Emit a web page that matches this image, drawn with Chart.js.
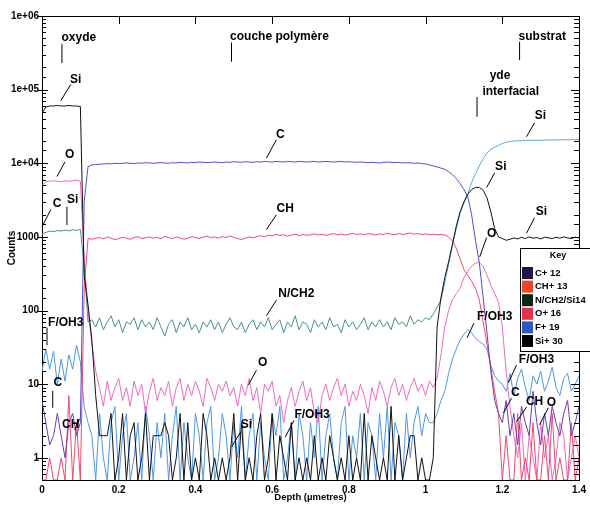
<!DOCTYPE html>
<html>
<head>
  <meta charset="utf-8">
  <title>SIMS depth profile</title>
  <script src="https://cdn.jsdelivr.net/npm/chart.js@4.4.1/dist/chart.umd.min.js"></script>
  <style>
    html, body { margin: 0; padding: 0; background: #fff; }
    #wrap { width: 590px; height: 513px; }
  </style>
</head>
<body>
  <div id="wrap"><canvas id="profile" width="590" height="513"></canvas></div>

  <script>
    // depth grid (µm)
    const depth = [
      0,0.01,0.02,0.03,0.04,0.05,0.06,0.07,0.08,0.09,0.1,0.11,0.12,0.13,0.14,0.15,0.16,0.17,0.18,0.19,
      0.2,0.21,0.22,0.23,0.24,0.25,0.26,0.27,0.28,0.29,0.3,0.31,0.32,0.33,0.34,0.35,0.36,0.37,0.38,0.39,
      0.4,0.41,0.42,0.43,0.44,0.45,0.46,0.47,0.48,0.49,0.5,0.51,0.52,0.53,0.54,0.55,0.56,0.57,0.58,0.59,
      0.6,0.61,0.62,0.63,0.64,0.65,0.66,0.67,0.68,0.69,0.7,0.71,0.72,0.73,0.74,0.75,0.76,0.77,0.78,0.79,
      0.8,0.81,0.82,0.83,0.84,0.85,0.86,0.87,0.88,0.89,0.9,0.91,0.92,0.93,0.94,0.95,0.96,0.97,0.98,0.99,
      1,1.01,1.02,1.03,1.04,1.05,1.06,1.07,1.08,1.09,1.1,1.11,1.12,1.13,1.14,1.15,1.16,1.17,1.18,1.19,
      1.2,1.21,1.22,1.23,1.24,1.25,1.26,1.27,1.28,1.29,1.3,1.31,1.32,1.33,1.34,1.35,1.36,1.37,1.38,1.39,1.4
    ];

    // counts per species, same length as depth (0 = no counts)
    const cCounts = [
      6,3,1.5,2,4,2,1,3,4,2,3,
      3000,9000,9500,
      9600,9700,9800,9900,9800,10000,9900,10000,10100,10000,9900,10100,10000,10200,10100,
      10000,10100,10200,10100,10000,10200,10100,10300,10200,10100,10300,10200,10400,10300,10200,
      10300,10400,10300,10200,10400,10300,10500,10400,10300,10500,10400,10300,10500,10400,10600,
      10500,10400,10600,10500,10400,10600,10500,10400,10600,10500,10400,10500,10600,10400,10500,
      10600,10500,10400,10500,10600,10400,10500,10400,10300,10400,10300,10200,10300,10200,10100,
      10300,10400,10300,10200,10300,10100,10200,10100,10000,10100,9900,9800,9500,
      9200,8900,8600,8300,7700,7000,6200,5300,4400,3500,2000,900,450,150,50,15,6,4,
      3,6,2,4,1.5,5,3,2,8,3,1.5,4,2,5,3,2,4,6,2,3,5
    ];
    const chCounts = [
      0,0,1,0,0,1,0,7,0,3,0,
      200,
      950,930,960,980,940,1000,960,920,950,990,960,930,980,1010,950,
      970,1000,960,990,940,1020,980,950,1000,970,930,960,1010,980,950,
      990,1030,970,1000,960,1010,980,1030,990,950,920,960,1000,970,1010,
      1040,1000,1060,1030,1080,1050,1070,1020,1060,1090,1040,1080,1050,1070,1100,
      1060,1090,1050,1080,1110,1070,1100,1060,1090,1120,1080,1100,1070,1110,1090,
      1060,1100,1080,1120,1090,1070,1110,1080,1100,1130,1090,1110,1080,1100,1070,
      1090,1070,1080,1060,1000,880,700,500,360,300,250,200,140,70,35,17,8,4,
      0,2,0,0,4,0,1,0,3,0,0,2,0,4,0,1,0,0,3,0,1
    ];
    const nCounts = [
      1100,1150,1200,1180,1220,1200,1240,1210,1250,1230,1260,
      400,70,
      75,60,80,55,70,85,60,75,50,70,65,80,55,75,60,
      70,55,80,60,45,65,75,50,70,60,80,55,65,50,70,
      60,75,55,70,50,65,80,60,55,70,50,65,75,55,70,
      60,80,55,65,75,50,70,60,85,55,70,65,50,75,60,
      70,55,80,60,65,50,75,60,70,55,65,80,55,70,60,
      75,60,70,55,80,65,70,60,85,65,75,70,80,75,
      90,110,140,240,420,760,1300,2100,2900,3800,5500,7200,9200,11500,13800,15500,16500,17500,18500,19300,19800,
      20000,20200,20300,20400,20500,20500,20600,20500,20700,20600,20800,20700,20800,20900,20800,21000,20900,21000
    ];
    const oCounts = [
      5000,5600,5700,5800,5700,5600,5800,5700,5800,5900,5700,
      500,100,35,15,9,5,11,6,9,
      12,6,9,5,11,7,10,4,8,12,6,9,7,11,5,
      9,12,6,10,7,11,8,5,12,9,6,10,8,11,7,
      9,5,10,7,12,6,9,4,10,8,11,5,7,3,6,
      9,5,8,11,6,9,4,3,7,10,6,9,12,7,10,
      5,8,6,10,7,4,9,6,11,8,5,9,12,7,10,
      6,9,12,8,10,7,11,
      9,12,25,60,100,140,170,200,280,340,400,440,450,400,300,220,170,130,60,15,5,
      2,1,3,0,2,1,0,3,1,2,0,1,3,2,0,1,2,1
    ];
    const fCounts = [
      15,30,16,28,10,22,11,25,16,34,20,
      5,3,
      2,0,4,1,0,3,5,0,2,4,0,1,3,0,5,
      2,0,3,1,4,0,2,5,0,3,1,0,4,2,0,
      3,5,0,1,4,2,0,3,1,5,0,2,4,0,3,
      1,0,4,2,5,0,1,3,0,4,2,0,3,1,5,
      0,2,4,1,0,3,5,0,2,1,4,0,3,2,0,
      4,1,5,0,3,2,0,4,1,3,5,2,4,3,
      3,4,6,8,14,22,30,40,48,55,50,42,38,35,30,18,13,11,10,
      8,14,7,12,16,9,6,13,10,15,8,11,17,9,7,12,14,8,10,13
    ];
    const siCounts = [
      48000,58000,60000,60000,61000,60000,60000,61000,60000,60000,59000,
      300,120,40,7,
      2,2,2,4,0,1,4,0,2,3,0,1,4,0,2,
      2,2,3,2,0,1,4,0,3,0,1,0,4,2,0,
      1,0,1,0,1,4,0,3,0,1,0,2,4,0,1,
      4,0,2,1,0,3,0,1,0,1,0,2,0,1,0,
      2,1,0,1,0,2,0,1,0,4,0,2,1,0,1,
      0,5,0,2,0,1,2,2,0,1,0,0,
      1,60,150,280,460,800,1400,2200,3000,3800,4400,4700,4700,4300,3400,2200,1300,1000,950,
      900,930,970,940,990,950,1000,960,980,940,990,970,950,990,960,1000,970,950,990,970
    ];

    const yMin = 0.5, yMax = 1e6;
    const xTicksLabels = ['0', '0.2', '0.4', '0.6', '0.8', '1', '1.2', '1.4'];

    // text labels on the plot: [text, depth, log10(counts), leader x1, e1, x2, e2]
    const notes = [
      ['oxyde', 0.096, 5.70, 0.052, 5.62, 0.052, 5.36],
      ['couche polymère', 0.619, 5.72, 0.494, 5.64, 0.494, 5.38],
      ['substrat', 1.304, 5.72, 1.245, 5.65, 1.245, 5.40],
      ['yde', 1.194, 5.19],
      ['interfacial', 1.222, 4.97, 1.134, 4.90, 1.134, 4.63],
      ['Si', 0.088, 5.13, 0.049, 4.85, 0.075, 5.07],
      ['O', 0.072, 4.11, 0.039, 3.82, 0.060, 4.02],
      ['C', 0.039, 3.45, 0.0, 3.14, 0.023, 3.37],
      ['Si', 0.080, 3.50, 0.065, 3.41, 0.065, 3.16],
      ['C', 0.621, 4.39, 0.585, 4.07, 0.611, 4.32],
      ['CH', 0.634, 3.38, 0.585, 3.10, 0.611, 3.30],
      ['N/CH2', 0.663, 2.23, 0.585, 1.93, 0.611, 2.14],
      ['O', 0.575, 1.29, 0.538, 0.99, 0.559, 1.19],
      ['Si', 0.533, 0.45, 0.494, 0.15, 0.518, 0.35],
      ['F/OH3', 0.704, 0.58, 0.634, 0.28, 0.657, 0.51],
      ['F/OH3', 0.062, 1.84, 0.013, 1.77, 0.013, 1.53],
      ['C', 0.041, 1.02, 0.028, 0.91, 0.028, 0.68],
      ['CH', 0.075, 0.45, 0.098, 0.53, 0.085, 0.38],
      ['Si', 1.299, 4.64, 1.263, 4.36, 1.284, 4.55],
      ['Si', 1.196, 3.96, 1.159, 3.67, 1.180, 3.87],
      ['Si', 1.302, 3.34, 1.263, 3.05, 1.284, 3.26],
      ['O', 1.172, 3.05, 1.141, 2.73, 1.159, 2.99],
      ['F/OH3', 1.180, 1.91, 1.108, 1.63, 1.126, 1.83],
      ['F/OH3', 1.289, 1.33, 1.216, 1.02, 1.237, 1.26],
      ['C', 1.234, 0.89, 1.203, 0.61, 1.224, 0.81],
      ['CH', 1.284, 0.76, 1.237, 0.49, 1.263, 0.69],
      ['O', 1.328, 0.75, 1.297, 0.45, 1.320, 0.68]
    ];

    Chart.defaults.font.family = "'Liberation Sans', Arial, sans-serif";
    Chart.defaults.color = '#000';

    function pts(arr) {
      // log axis cannot show zero, put empty channels on the floor
      return depth.map((d, i) => ({ x: d, y: arr[i] > 0 ? arr[i] : yMin }));
    }
    function isDecade(v) {
      const e = Math.log10(v);
      return Math.abs(e - Math.round(e)) < 1e-6;
    }
    function fmtCounts(v) {
      if (!isDecade(v)) return '';
      const e = Math.round(Math.log10(v));
      if (e >= 4) return '1e+0' + e;
      return String(Math.round(v));
    }

    // inward tick marks on all four sides
    const inTicks = {
      id: 'inTicks',
      afterDraw(chart) {
        const c = chart.ctx, a = chart.chartArea;
        const ys = chart.scales.y, xs = chart.scales.x;
        c.save();
        c.strokeStyle = '#000';
        c.lineWidth = 1;
        c.beginPath();
        ys.ticks.forEach(t => {
          const p = Math.round(ys.getPixelForValue(t.value)) + 0.5;
          const big = isDecade(t.value);
          c.moveTo(a.left - (big ? 5 : 0), p); c.lineTo(a.left + (big ? 6 : 4), p);
          c.moveTo(a.right - (big ? 8 : 5), p); c.lineTo(a.right, p);
        });
        xs.ticks.forEach(t => {
          const p = Math.round(xs.getPixelForValue(t.value)) + 0.5;
          c.moveTo(p, a.top); c.lineTo(p, a.top + 8);
        });
        c.stroke();
        c.restore();
      }
    };

    // species labels with leader lines
    const noteLabels = {
      id: 'noteLabels',
      afterDatasetsDraw(chart) {
        const c = chart.ctx, xs = chart.scales.x, ys = chart.scales.y;
        const px = v => xs.getPixelForValue(v);
        const py = e => ys.getPixelForValue(Math.pow(10, e));
        c.save();
        c.font = "bold 12px 'Liberation Sans', Arial, sans-serif";
        c.textAlign = 'center';
        c.textBaseline = 'middle';
        c.fillStyle = '#000';
        c.strokeStyle = '#000';
        c.lineWidth = 1;
        notes.forEach(n => {
          c.fillText(n[0], px(n[1]), py(n[2]));
          if (n.length > 3) {
            c.beginPath();
            c.moveTo(px(n[3]), py(n[4]));
            c.lineTo(px(n[5]), py(n[6]));
            c.stroke();
          }
        });
        c.restore();
      }
    };

    // "Key" box
    const keyBox = {
      id: 'keyBox',
      afterDraw(chart) {
        const c = chart.ctx;
        const left = 520, top = 248, w = 76, h = 103;
        c.save();
        c.fillStyle = '#fff';
        c.fillRect(left, top, w, h);
        c.strokeStyle = '#000';
        c.lineWidth = 1;
        c.strokeRect(left + 0.5, top + 0.5, w, h);
        c.fillStyle = '#000';
        c.font = "bold 9px 'Liberation Sans', Arial, sans-serif";
        c.textAlign = 'center';
        c.textBaseline = 'middle';
        c.fillText('Key', left + 38, top + 8);
        c.textAlign = 'left';
        c.font = "bold 9.5px 'Liberation Sans', Arial, sans-serif";
        chart.data.datasets.forEach((ds, i) => {
          const y = top + 25 + i * 13.6;
          c.fillStyle = ds.backgroundColor;
          c.fillRect(left + 2, y - 6, 11, 12);
          c.fillStyle = '#000';
          c.fillText(ds.label, left + 15, y);
        });
        c.restore();
      }
    };

    const line = { borderWidth: 1, pointRadius: 0, tension: 0, fill: false };

    new Chart(document.getElementById('profile'), {
      type: 'line',
      data: {
        datasets: [
          Object.assign({
            label: 'C+ 12', data: pts(cCounts), borderColor: '#4f50d2', backgroundColor: '#22124e', order: 2,
            segment: { borderColor: ctx => (ctx.p0.parsed.y < 200 && ctx.p1.parsed.y < 200) ? '#6a3cae' : undefined }
          }, line),
          Object.assign({
            label: 'CH+ 13', data: pts(chCounts), borderColor: '#ee4a6c', backgroundColor: '#e84a28', order: 4
          }, line),
          Object.assign({
            label: 'N/CH2/Si14', data: pts(nCounts), borderColor: '#40938c', backgroundColor: '#0e2616', order: 3,
            segment: { borderColor: ctx => ctx.p0.parsed.x >= 1.05 ? '#5aa9dc' : undefined }
          }, line),
          Object.assign({
            label: 'O+ 16', data: pts(oCounts), borderColor: '#f06abf', backgroundColor: '#e8304c', order: 5
          }, line),
          Object.assign({
            label: 'F+ 19', data: pts(fCounts), borderColor: '#4d98e6', backgroundColor: '#2a58c8', order: 6
          }, line),
          Object.assign({
            label: 'Si+ 30', data: pts(siCounts), borderColor: '#111111', backgroundColor: '#000000', order: 1
          }, line)
        ]
      },
      options: {
        responsive: false,
        animation: false,
        devicePixelRatio: 1,
        layout: { padding: { top: 16, right: 7, left: 0, bottom: 0 } },
        plugins: { legend: { display: false }, tooltip: { enabled: false } },
        scales: {
          x: {
            type: 'linear', min: 0, max: 1.4,
            afterFit: s => { s.height = 33; },
            grid: { display: false, drawTicks: false },
            border: { display: true, color: '#000', width: 1 },
            ticks: {
              stepSize: 0.2, padding: 4,
              font: { size: 10, weight: 'bold' },
              callback: v => xTicksLabels[Math.round(v / 0.2)]
            },
            title: {
              display: true, text: 'Depth (µmetres)',
              font: { size: 9.5, weight: 'bold' },
              padding: { top: 0, bottom: 10 }
            }
          },
          x2: {
            type: 'linear', position: 'top', min: 0, max: 1.4,
            afterFit: s => { s.height = 0; },
            grid: { display: false, drawTicks: false },
            border: { display: true, color: '#000', width: 1 },
            ticks: { display: false }
          },
          y: {
            type: 'logarithmic', position: 'left', min: yMin, max: yMax,
            afterFit: s => { s.width = 42; },
            grid: { display: false, drawTicks: false },
            border: { display: true, color: '#000', width: 1 },
            ticks: {
              autoSkip: false, padding: 3,
              font: { size: 10, weight: 'bold' },
              callback: v => fmtCounts(v)
            },
            title: {
              display: true, text: 'Counts',
              font: { size: 10, weight: 'bold' },
              padding: { top: 6, bottom: 0 }
            }
          },
          y2: {
            type: 'logarithmic', position: 'right', min: yMin, max: yMax,
            afterFit: s => { s.width = 0; },
            grid: { display: false, drawTicks: false },
            border: { display: true, color: '#000', width: 1 },
            ticks: { display: false }
          }
        }
      },
      plugins: [inTicks, noteLabels, keyBox]
    });
  </script>
</body>
</html>
